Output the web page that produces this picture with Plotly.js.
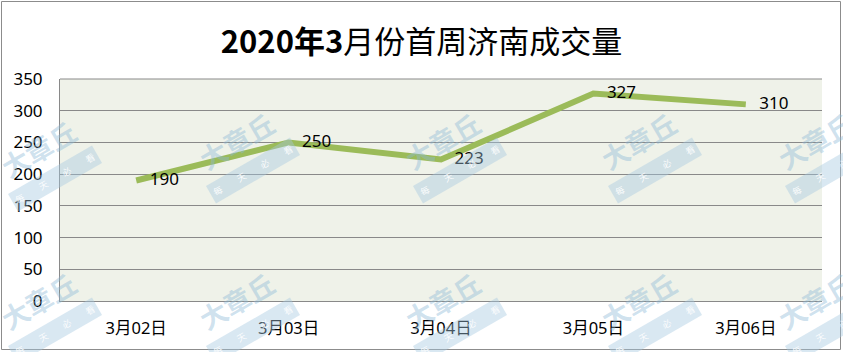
<!DOCTYPE html>
<html>
<head>
<meta charset="utf-8">
<script src="https://cdn.plot.ly/plotly-3.0.1.min.js"></script>
<style>
  html, body { margin: 0; padding: 0; background: #fff; }
  #chart { width: 843px; height: 352px; }
</style>
</head>
<body>
<div id="chart"></div>
<script>
// ---- data ----
const categories = ['3月02日', '3月03日', '3月04日', '3月05日', '3月06日'];
const volumes = [190, 250, 223, 327, 310];
const titleText = '<b>2020年3</b>月份首周济南成交量';
const yTicks = [0, 50, 100, 150, 200, 250, 300, 350];
const watermarkMain = '大章丘';
const watermarkSub = '每　　天　　必　　看';

// ---- layout geometry ----
const W = 843, H = 352;
const M = { l: 60, r: 21, t: 79, b: 51 };
const PW = W - M.l - M.r, PH = H - M.t - M.b;
const px = x => (x - M.l) / PW;
const py = y => (H - M.b - y) / PH;

const FONT = '"Noto Sans", "Noto Sans CJK SC", sans-serif';
const WM_ANGLE = -30;

const trace = {
  type: 'scatter',
  mode: 'lines+markers+text',
  x: categories,
  y: volumes,
  text: volumes.map(String),
  textposition: 'middle right',
  textfont: { family: FONT, size: 17, color: '#000' },
  line: { color: '#9bbb59', width: 6 },
  marker: { size: 20, color: 'rgba(0,0,0,0)' },
  hoverinfo: 'none',
  cliponaxis: false
};

// watermark grid (decorative overlay in the reference)
const wmPos = [[236, 140], [443, 140], [638, 140], [236, 300], [443, 300], [638, 300],
               [38, 148], [38, 300], [815, 140], [815, 300]];
const annotations = [];
for (const [xx, yy] of wmPos) {
  annotations.push({
    xref: 'paper', yref: 'paper', x: px(xx), y: py(yy),
    text: '<b>' + watermarkMain + '</b>', showarrow: false, textangle: WM_ANGLE,
    font: { family: '"Noto Sans CJK SC", sans-serif', size: 27, color: 'rgba(140,185,215,0.42)' },
    xanchor: 'center', yanchor: 'middle'
  });
  annotations.push({
    xref: 'paper', yref: 'paper', x: px(xx + 17), y: py(yy + 30), showarrow: false,
    text: watermarkSub, textangle: WM_ANGLE,
    font: { family: '"Noto Sans CJK SC", sans-serif', size: 9, color: 'rgba(255,255,255,0.9)' },
    bgcolor: 'rgba(165,200,225,0.42)', borderpad: 3,
    xanchor: 'center', yanchor: 'middle'
  });
}

const layout = {
  width: W, height: H,
  margin: M,
  paper_bgcolor: '#ffffff',
  plot_bgcolor: '#eff2e9',
  showlegend: false,
  title: {
    text: titleText,
    x: 0.5, xanchor: 'center', xref: 'container',
    y: 1 - 42 / H, yanchor: 'middle', yref: 'container',
    font: { family: '"Noto Sans CJK SC", sans-serif', size: 31, color: '#000' }
  },
  xaxis: {
    type: 'category',
    range: [-0.5, 4.5],
    showgrid: false,
    showline: true, linecolor: '#898989', linewidth: 1,
    ticks: 'outside', ticklen: 12, tickcolor: 'rgba(0,0,0,0)',
    tickfont: { family: FONT, size: 16.5, color: '#000' },
    fixedrange: true
  },
  yaxis: {
    range: [0, 350],
    tickvals: yTicks,
    ticktext: yTicks.map(String),
    showgrid: true, gridcolor: '#898989', gridwidth: 1,
    zeroline: false,
    showline: true, linecolor: '#898989', linewidth: 1,
    ticks: 'outside', ticklen: 13, tickcolor: 'rgba(0,0,0,0)',
    tickfont: { family: FONT, size: 17, color: '#000' },
    fixedrange: true
  },
  shapes: [
    {
      type: 'rect', xref: 'paper', yref: 'paper', layer: 'above',
      x0: px(1.5), x1: px(840.5), y0: py(349.5), y1: py(1.5),
      line: { color: '#8c8c8c', width: 1 }, fillcolor: 'rgba(0,0,0,0)'
    },
    {
      type: 'line', xref: 'paper', yref: 'paper', layer: 'below',
      x0: 0, x1: 1, y0: 1, y1: 1,
      line: { color: '#898989', width: 1 }
    }
  ],
  annotations: annotations
};

Plotly.newPlot('chart', [trace], layout, { displayModeBar: false }).then(gd => {
  // make sure the watermark annotations are drawn at their slant
  gd.querySelectorAll('.annotation .annotation-text-g').forEach(g => {
    const bb = g.getBBox();
    const cx = bb.x + bb.width / 2, cy = bb.y + bb.height / 2;
    g.setAttribute('transform', 'rotate(' + WM_ANGLE + ' ' + cx + ' ' + cy + ')');
  });
});
</script>
</body>
</html>
